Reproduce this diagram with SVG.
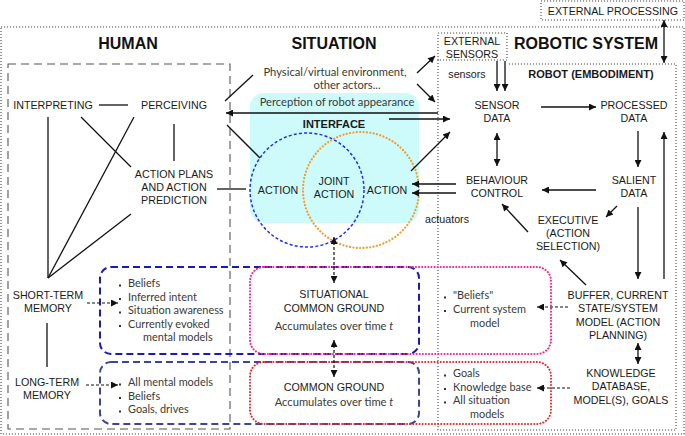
<svg xmlns="http://www.w3.org/2000/svg" width="685" height="436" viewBox="0 0 685 436">
<defs>
<style>
.lb{font-family:"Liberation Sans",Arial,sans-serif;font-size:10.7px;fill:#1a1a1a;text-anchor:middle}
.tt{font-family:"Liberation Sans",Arial,sans-serif;font-size:16px;font-weight:bold;fill:#111;text-anchor:middle}
.bd{font-family:"Liberation Sans",Arial,sans-serif;font-size:11px;font-weight:bold;fill:#1a1a1a;text-anchor:middle}
.lt{font-family:Lato,"Open Sans",sans-serif;font-size:10.9px;fill:#3a3a3a}
.ltc{font-family:Lato,"Open Sans",sans-serif;font-size:11.2px;fill:#3a3a3a;text-anchor:middle}
.ln{stroke:#111;stroke-width:1.3;fill:none}
.ar{stroke:#111;stroke-width:1.3;fill:none;marker-end:url(#ah)}
.ar2{stroke:#111;stroke-width:1.3;fill:none;marker-end:url(#ah);marker-start:url(#ah)}
.da{stroke:#111;stroke-width:1.2;fill:none;stroke-dasharray:3 2;marker-end:url(#ah)}
.da2{stroke:#111;stroke-width:1.2;fill:none;stroke-dasharray:3 2;marker-end:url(#ah);marker-start:url(#ah)}
.dot{fill:none;stroke:#444;stroke-width:1.1;stroke-dasharray:1.1 1.9}
.bul{fill:#333}
</style>
<marker id="ah" viewBox="0 0 10 10" refX="10" refY="5" markerUnits="userSpaceOnUse" markerWidth="9" markerHeight="7" orient="auto-start-reverse">
<path d="M0,0 L10,5 L0,10 z" fill="#111"/>
</marker>
</defs>

<!-- frames -->
<g id="frames">
<rect x="1" y="27" width="683" height="407" class="dot"/>
<rect x="8" y="64" width="222" height="365" fill="none" stroke="#555" stroke-width="1.1" stroke-dasharray="8 5"/>
<path d="M438,60 L438,430 L676,430 L676,64 L507,64" class="dot"/>
</g>

<g id="titles">
<text class="tt" x="128" y="49">HUMAN</text>
<text class="tt" x="334" y="49">SITUATION</text>
<text class="tt" x="586" y="49">ROBOTIC SYSTEM</text>
<text class="bd" x="591" y="78">ROBOT (EMBODIMENT)</text>
<text class="lb" x="467" y="78">sensors</text>
<text class="lb" x="447" y="223">actuators</text>
</g>

<g id="external-processing">
<rect x="541" y="1" width="143" height="19" class="dot"/>
<text class="lb" x="613" y="14.5">EXTERNAL PROCESSING</text>
</g>
<g id="external-sensors">
<rect x="438" y="33" width="69" height="27" class="dot"/>
<text class="lb" x="472" y="45">EXTERNAL</text>
<text class="lb" x="472" y="57.5">SENSORS</text>
</g>

<!-- interface -->
<g id="interface">
<rect x="250" y="93" width="169" height="130" rx="14" fill="#cdfbfb"/>
<text class="ltc" x="337" y="106">Perception of robot appearance</text>
<text class="bd" x="334" y="128">INTERFACE</text>
<circle cx="307" cy="190" r="57" fill="none" stroke="#1f2bff" stroke-width="1.5" stroke-dasharray="3 2.2"/>
<circle cx="361" cy="190" r="58" fill="none" stroke="#f39a2a" stroke-width="2.2" stroke-linecap="round" stroke-dasharray="0.1 3.3"/>
</g>
<g id="action-human"><text class="lb" x="278" y="194">ACTION</text></g>
<g id="joint-action"><text class="lb" x="334" y="185">JOINT</text><text class="lb" x="334" y="198">ACTION</text></g>
<g id="action-robot"><text class="lb" x="387" y="194">ACTION</text></g>

<g id="environment">
<text class="ltc" x="335" y="76">Physical/virtual environment,</text>
<text class="ltc" x="347" y="88.5">other actors...</text>
</g>

<!-- memory boxes -->
<g id="stm-box">
<rect x="100" y="267" width="319" height="87" rx="11" fill="none" stroke="#1a1ab4" stroke-width="2" stroke-dasharray="7 4"/>
<rect x="119" y="284.5" width="2" height="2" class="bul"/>
<rect x="119" y="298" width="2" height="2" class="bul"/>
<rect x="119" y="311.5" width="2" height="2" class="bul"/>
<rect x="119" y="325" width="2" height="2" class="bul"/>
<text class="lt" x="128" y="287">Beliefs</text>
<text class="lt" x="128" y="301">Inferred intent</text>
<text class="lt" x="128" y="314">Situation awareness</text>
<text class="lt" x="128" y="328">Currently evoked</text>
<text class="lt" x="143" y="341">mental models</text>
</g>
<g id="ltm-box">
<rect x="100" y="362" width="319" height="62" rx="11" fill="none" stroke="#3b4796" stroke-width="2" stroke-dasharray="7 4"/>
<rect x="119" y="383.5" width="2" height="2" class="bul"/>
<rect x="119" y="397" width="2" height="2" class="bul"/>
<rect x="119" y="410.5" width="2" height="2" class="bul"/>
<text class="lt" x="128" y="386">All mental models</text>
<text class="lt" x="128" y="399.5">Beliefs</text>
<text class="lt" x="128" y="413">Goals, drives</text>
</g>
<g id="situational-common-ground">
<rect x="250" y="267" width="301" height="87" rx="14" fill="none" stroke="#ff1a8c" stroke-width="2" stroke-linecap="round" stroke-dasharray="0.1 3"/>
<text class="lb" x="334" y="298">SITUATIONAL</text>
<text class="lb" x="334" y="312">COMMON GROUND</text>
<text class="ltc" x="334" y="330">Accumulates over time <tspan font-style="italic">t</tspan></text>
<rect x="444" y="296.5" width="2" height="2" class="bul"/>
<rect x="444" y="310" width="2" height="2" class="bul"/>
<text class="lt" x="453" y="299">"Beliefs"</text>
<text class="lt" x="453" y="313">Current system</text>
<text class="lt" x="470" y="326.5">model</text>
</g>
<g id="common-ground">
<rect x="250" y="362" width="301" height="62" rx="14" fill="none" stroke="#e3262b" stroke-width="2" stroke-linecap="round" stroke-dasharray="0.1 3"/>
<text class="lb" x="334" y="391">COMMON GROUND</text>
<text class="ltc" x="334" y="406">Accumulates over time <tspan font-style="italic">t</tspan></text>
<rect x="444" y="374.5" width="2" height="2" class="bul"/>
<rect x="444" y="388" width="2" height="2" class="bul"/>
<rect x="444" y="401.5" width="2" height="2" class="bul"/>
<text class="lt" x="453" y="377">Goals</text>
<text class="lt" x="453" y="390.5">Knowledge base</text>
<text class="lt" x="453" y="404">All situation</text>
<text class="lt" x="470" y="417.5">models</text>
</g>

<!-- human nodes -->
<g id="interpreting"><text class="lb" x="53" y="109">INTERPRETING</text></g>
<g id="perceiving"><text class="lb" x="174" y="109">PERCEIVING</text></g>
<g id="action-plans">
<text class="lb" x="174" y="178">ACTION PLANS</text>
<text class="lb" x="174" y="191">AND ACTION</text>
<text class="lb" x="174" y="204">PREDICTION</text>
</g>
<g id="short-term-memory"><text class="lb" x="48" y="299">SHORT-TERM</text><text class="lb" x="48" y="312">MEMORY</text></g>
<g id="long-term-memory"><text class="lb" x="47" y="386">LONG-TERM</text><text class="lb" x="47" y="399">MEMORY</text></g>

<!-- robot nodes -->
<g id="sensor-data"><text class="lb" x="497" y="109">SENSOR</text><text class="lb" x="497" y="122">DATA</text></g>
<g id="processed-data"><text class="lb" x="634" y="109">PROCESSED</text><text class="lb" x="634" y="122">DATA</text></g>
<g id="behaviour-control"><text class="lb" x="497" y="184">BEHAVIOUR</text><text class="lb" x="497" y="197">CONTROL</text></g>
<g id="salient-data"><text class="lb" x="634" y="184">SALIENT</text><text class="lb" x="634" y="197">DATA</text></g>
<g id="executive"><text class="lb" x="568" y="224">EXECUTIVE</text><text class="lb" x="568" y="237">(ACTION</text><text class="lb" x="568" y="250">SELECTION)</text></g>
<g id="buffer"><text class="lb" x="618" y="299">BUFFER, CURRENT</text><text class="lb" x="618" y="312">STATE/SYSTEM</text><text class="lb" x="618" y="326">MODEL (ACTION</text><text class="lb" x="618" y="339">PLANNING)</text></g>
<g id="knowledge"><text class="lb" x="621" y="377">KNOWLEDGE</text><text class="lb" x="621" y="390">DATABASE,</text><text class="lb" x="621" y="404">MODEL(S), GOALS</text></g>

<!-- connectors -->
<g id="connectors">
<line class="ln" x1="99" y1="105" x2="128" y2="105"/>
<line class="ln" x1="174" y1="124" x2="174" y2="161"/>
<line class="ln" x1="81" y1="117" x2="131" y2="167"/>
<line class="ln" x1="134" y1="117" x2="48" y2="278"/>
<line class="ln" x1="48" y1="117" x2="48" y2="278"/>
<line class="ln" x1="131" y1="214" x2="48" y2="278"/>
<line class="ln" x1="47" y1="323" x2="47" y2="367"/>
<line class="ln" x1="217" y1="189" x2="246" y2="189"/>
<line class="ln" x1="253" y1="75" x2="225" y2="101"/>
<line class="ln" x1="227" y1="125" x2="260" y2="158"/>
<line class="ar" x1="438" y1="113" x2="226" y2="113"/>
<line class="ar" x1="389" y1="119" x2="450" y2="119"/>
<line class="ar" x1="417" y1="73" x2="435" y2="56"/>
<line class="ar" x1="417" y1="84" x2="435" y2="102"/>
<line class="ar" x1="411" y1="171" x2="450" y2="132"/>
<line class="ar" x1="456" y1="184" x2="412" y2="184"/>
<line class="ar" x1="456" y1="193" x2="412" y2="193"/>
<line class="ar" x1="497" y1="61" x2="497" y2="91"/>
<line class="ar" x1="505" y1="61" x2="505" y2="91"/>
<line class="ar" x1="541" y1="107" x2="596" y2="107"/>
<line class="ar" x1="638" y1="131" x2="638" y2="167"/>
<line class="ar2" x1="497" y1="133" x2="497" y2="166"/>
<line class="ar" x1="596" y1="190" x2="542" y2="190"/>
<line class="ar" x1="617" y1="206" x2="606" y2="217"/>
<line class="ar" x1="528" y1="232" x2="502" y2="204"/>
<line class="ar" x1="638" y1="207" x2="638" y2="279"/>
<line class="ar" x1="664" y1="279" x2="664" y2="132"/>
<line class="ar" x1="586" y1="285" x2="560" y2="260"/>
<line class="ar2" x1="638" y1="343" x2="638" y2="364"/>
<line class="ar2" x1="664" y1="20" x2="664" y2="63"/>
<line class="da" x1="568" y1="307" x2="537" y2="307"/>
<line class="da" x1="570" y1="388" x2="537" y2="388"/>
<line class="da" x1="87" y1="303" x2="118" y2="303"/>
<line class="da" x1="86" y1="385" x2="118" y2="385"/>
<line class="da2" x1="334" y1="237" x2="334" y2="283"/>
<line class="da2" x1="334" y1="340" x2="334" y2="377"/>
</g>
</svg>
